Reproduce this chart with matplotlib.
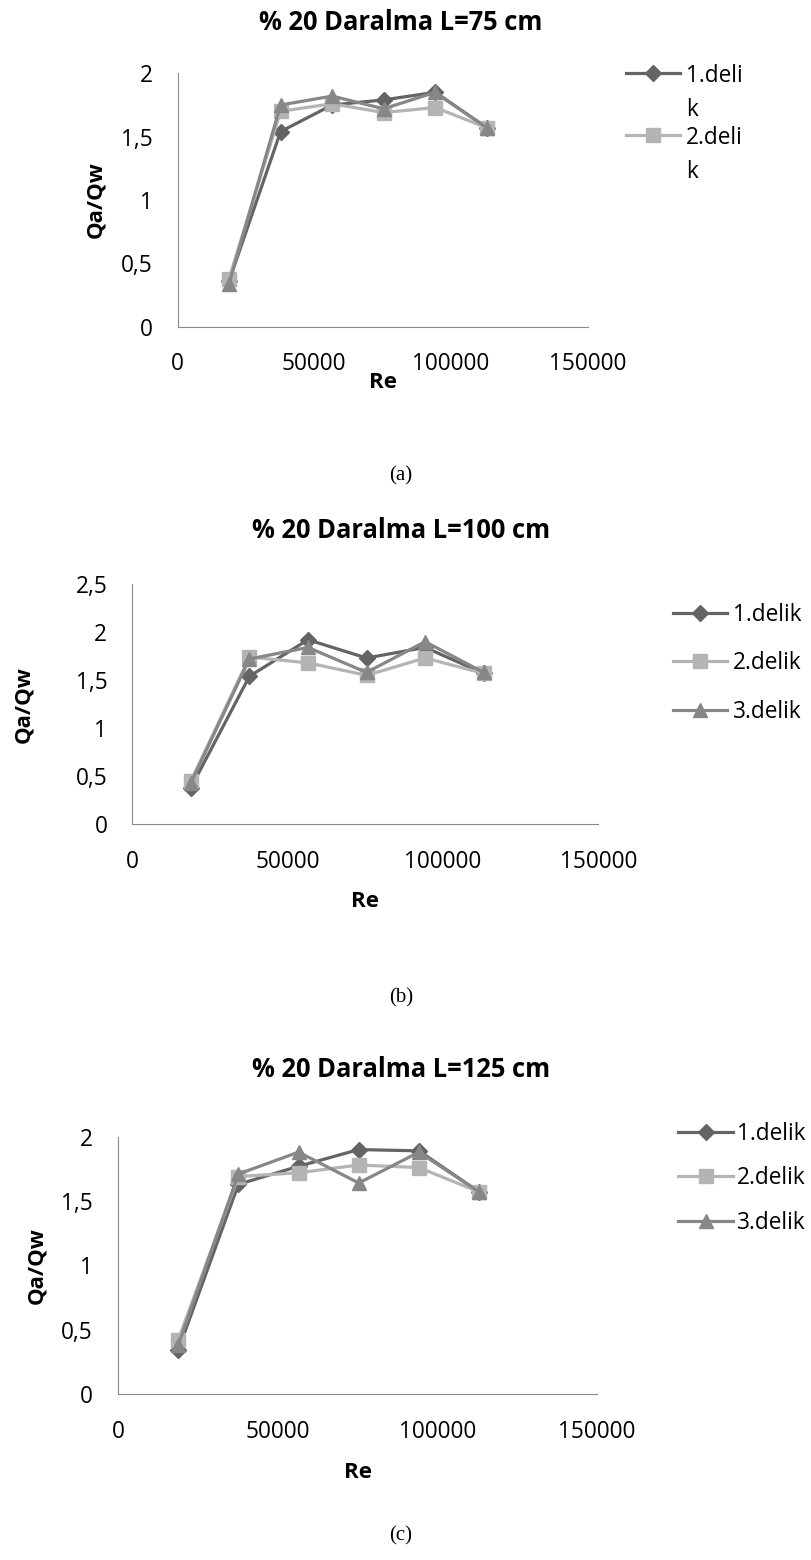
import matplotlib
matplotlib.use('Agg')
import matplotlib.pyplot as plt
from matplotlib.lines import Line2D

# Data
re = [18850, 37700, 56550, 75400, 94250, 113100]

a_delik1 = [0.36, 1.54, 1.75, 1.79, 1.85, 1.57]
a_delik2 = [0.38, 1.70, 1.76, 1.69, 1.73, 1.57]
a_delik3 = [0.34, 1.75, 1.82, 1.72, 1.85, 1.57]

b_delik1 = [0.38, 1.54, 1.92, 1.73, 1.84, 1.57]
b_delik2 = [0.45, 1.74, 1.68, 1.55, 1.73, 1.57]
b_delik3 = [0.43, 1.72, 1.84, 1.58, 1.90, 1.58]

c_delik1 = [0.34, 1.63, 1.77, 1.90, 1.89, 1.57]
c_delik2 = [0.42, 1.69, 1.72, 1.78, 1.76, 1.57]
c_delik3 = [0.38, 1.71, 1.88, 1.64, 1.88, 1.57]

titles = ['% 20 Daralma L=75 cm', '% 20 Daralma L=100 cm', '% 20 Daralma L=125 cm']
captions = ['(a)', '(b)', '(c)']
x_ticks = [0, 50000, 100000, 150000]
y_ticks_a = [0, 0.5, 1, 1.5, 2]
y_ticks_b = [0, 0.5, 1, 1.5, 2, 2.5]
labels_full = ['1.delik', '2.delik', '3.delik']
labels_a = ['1.deli\nk', '2.deli\nk']   # legend of (a) is wrapped and clipped

# styles
colors = ['#646464', '#b4b4b4', '#878787']
markers = ['D', 's', '^']
msizes = [8, 10, 10]
LW = 2.3
W, H = 811, 1560

plt.rcParams['font.family'] = ['Open Sans', 'DejaVu Sans']
fig = plt.figure(figsize=(W / 100, H / 100), dpi=100, facecolor='white')


def fx(x):
    return x / W


def fy(y):
    return 1 - y / H


def panel(box, series, yticks, title, title_y, ylab_x, re_y, cap_y, leg):
    left, top, right, bottom = box
    ax = fig.add_axes([fx(left), fy(bottom), (right - left) / W, (bottom - top) / H])
    for i, vals in enumerate(series):
        ax.plot(re, vals, color=colors[i], lw=LW, marker=markers[i],
                ms=msizes[i], mec=colors[i], mfc=colors[i])
    ax.set_xlim(0, 150000)
    ax.set_ylim(0, yticks[-1])
    ax.set_xticks(x_ticks)
    ax.set_xticklabels([str(t) for t in x_ticks])
    ax.set_yticks(yticks)
    ax.set_yticklabels([f'{t:g}'.replace('.', ',') for t in yticks])
    ax.tick_params(length=0, labelsize=16.3)
    ax.tick_params(axis='x', pad=18.5)
    ax.tick_params(axis='y', pad=18)
    for s in ['top', 'right']:
        ax.spines[s].set_visible(False)
    for s in ['left', 'bottom']:
        ax.spines[s].set_color('#8a8a8a')
        ax.spines[s].set_linewidth(0.8)

    mid = (left + right) / 2
    fig.text(fx(401), fy(title_y), title, ha='center', va='baseline',
             fontsize=18.4, fontweight='bold')
    fig.text(fx(ylab_x), fy((top + bottom) / 2), 'Qa/Qw', rotation=90,
             ha='center', va='center', fontsize=16, fontweight='bold')
    fig.text(fx(mid), fy(re_y), 'Re', ha='center', va='baseline',
             fontsize=16, fontweight='bold')
    fig.text(fx(401), fy(cap_y), title and captions[panel.n], ha='center',
             va='baseline', fontsize=15, family='Liberation Serif')
    panel.n += 1

    # legend drawn at figure level, Excel style
    hx0, hx1, tx, ys, labels, multiline = leg
    for i, (yy, lab) in enumerate(zip(ys, labels)):
        fig.add_artist(Line2D([fx(hx0), fx((hx0 + hx1) / 2), fx(hx1)],
                              [fy(yy)] * 3, transform=fig.transFigure,
                              color=colors[i], lw=LW, marker=markers[i],
                              ms=msizes[i], markevery=[1],
                              mec=colors[i], mfc=colors[i]))
        if multiline:
            fig.text(fx(tx), fy(yy - 9), lab, ha='left', va='top',
                     fontsize=16.3, linespacing=1.55)
        else:
            fig.text(fx(tx), fy(yy + 2), lab, ha='left', va='center',
                     fontsize=16.3)
    return ax


panel.n = 0

panel((177.5, 73.3, 587.7, 326.7), [a_delik1, a_delik2, a_delik3], y_ticks_a,
      titles[0], 30, 96, 388, 480,
      (626, 680, 686, [73, 135], labels_a, True))

panel((132.3, 584, 598.3, 824.3), [b_delik1, b_delik2, b_delik3], y_ticks_b,
      titles[1], 538, 24, 907, 1002,
      (673, 727, 733, [613, 661, 710], labels_full, False))

panel((118, 1136.7, 597, 1394), [c_delik1, c_delik2, c_delik3], y_ticks_a,
      titles[2], 1077, 37, 1478, 1540,
      (678, 733, 737, [1132, 1176, 1221], labels_full, False))

fig.savefig('out.png', dpi=100, facecolor='white')
